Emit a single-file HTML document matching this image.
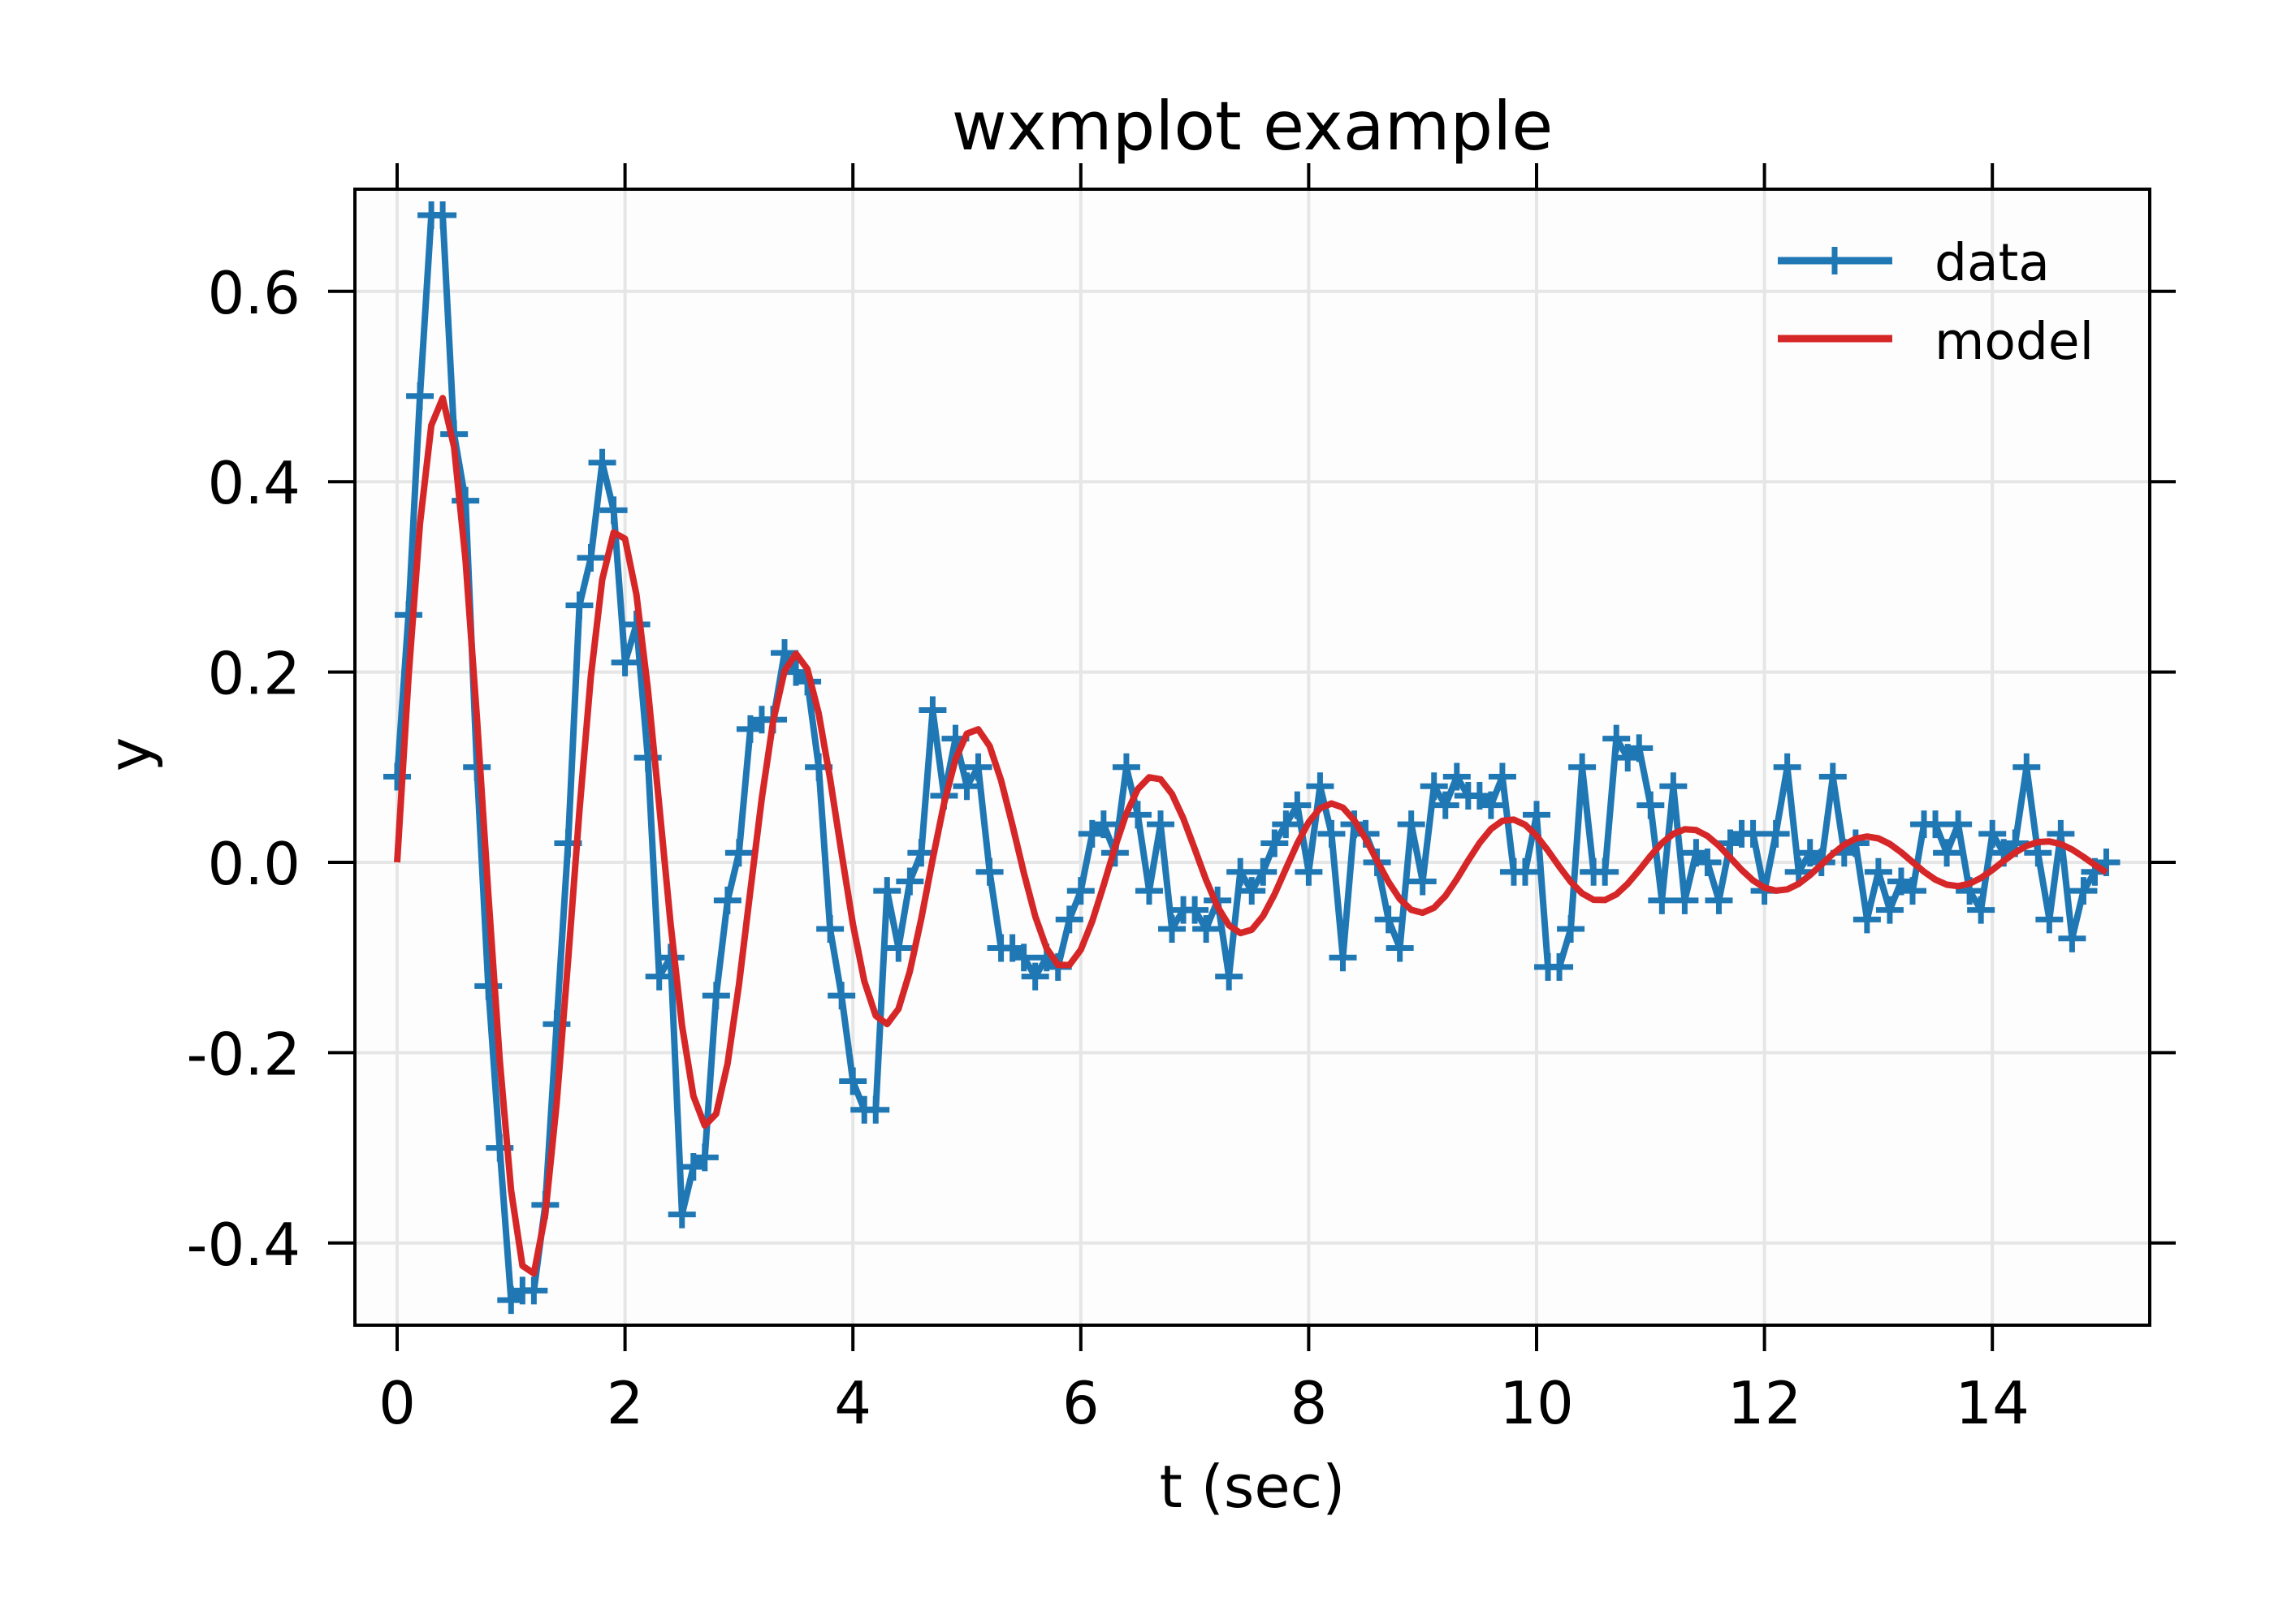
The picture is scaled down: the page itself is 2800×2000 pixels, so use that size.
<!DOCTYPE html>
<html><head><meta charset="utf-8"><style>
html,body{margin:0;padding:0;background:#fff;}
svg{display:block;font-family:"DejaVu Sans","Liberation Sans",sans-serif;}
</style></head><body>
<svg id="s" width="2800" height="2000" viewBox="0 0 2800 2000" xmlns="http://www.w3.org/2000/svg">
<rect width="2800" height="2000" fill="#fff"/>
<rect x="437" y="233" width="2210" height="1399" fill="#fdfdfd"/>
<g id="grid" stroke="#e6e6e6" stroke-width="4"></g>
<g id="series"></g>
<rect x="437" y="233" width="2210" height="1399" fill="none" stroke="#000" stroke-width="4"/>
<g id="ticks" stroke="#000" stroke-width="4"></g>
<g id="labels" font-size="72" fill="#000"></g>
<text x="1542" y="184" font-size="83" text-anchor="middle">wxmplot example</text>
<text x="1542" y="1856" font-size="72" text-anchor="middle">t (sec)</text>
<text x="0" y="0" font-size="72" text-anchor="middle" transform="translate(185,929) rotate(-90)">y</text>
<g>
<line x1="2189" y1="321" x2="2330" y2="321" stroke="#1f77b4" stroke-width="9"/>
<line x1="2242" y1="321" x2="2276" y2="321" stroke="#1f77b4" stroke-width="7"/>
<line x1="2259" y1="304" x2="2259" y2="338" stroke="#1f77b4" stroke-width="7"/>
<line x1="2189" y1="417" x2="2330" y2="417" stroke="#d62728" stroke-width="9"/>
<text x="2382" y="345" font-size="63">data</text>
<text x="2382" y="442" font-size="63">model</text>
</g>
</svg>
<script>
var NS="http://www.w3.org/2000/svg";
function X(t){return 489+140.3*t;}
function Y(v){return 1062-v*1172;}
function el(p,n,a,txt){var e=document.createElementNS(NS,n);for(var k in a)e.setAttribute(k,a[k]);if(txt!==undefined)e.textContent=txt;document.getElementById(p).appendChild(e);return e;}
for(var i=0;i<=14;i+=2){var x=X(i);el("grid","line",{x1:x,y1:233,x2:x,y2:1632});
el("ticks","line",{x1:x,y1:1632,x2:x,y2:1664});el("ticks","line",{x1:x,y1:233,x2:x,y2:201});
el("labels","text",{x:x,y:1753,"text-anchor":"middle"},String(i));}
[-0.4,-0.2,0,0.2,0.4,0.6].forEach(function(v){var y=Y(v);el("grid","line",{x1:437,y1:y,x2:2647,y2:y});
el("ticks","line",{x1:437,y1:y,x2:404,y2:y});el("ticks","line",{x1:2647,y1:y,x2:2679,y2:y});
el("labels","text",{x:370,y:y+27,"text-anchor":"end"},v.toFixed(1));});
var d=[0.09,0.26,0.49,0.68,0.68,0.45,0.38,0.10,-0.13,-0.30,-0.46,-0.45,-0.45,-0.36,-0.17,0.02,0.27,0.32,0.42,0.37,0.21,0.25,0.11,-0.12,-0.10,-0.37,-0.32,-0.31,-0.14,-0.04,0.01,0.14,0.15,0.15,0.22,0.20,0.19,0.10,-0.07,-0.14,-0.23,-0.26,-0.26,-0.03,-0.09,-0.02,0.01,0.16,0.07,0.13,0.08,0.10,-0.01,-0.09,-0.09,-0.10,-0.12,-0.10,-0.11,-0.06,-0.03,0.03,0.04,0.01,0.10,0.05,-0.03,0.04,-0.07,-0.05,-0.05,-0.07,-0.04,-0.12,-0.01,-0.03,-0.01,0.02,0.04,0.06,-0.01,0.08,0.03,-0.10,0.04,0.03,0.0,-0.06,-0.09,0.04,-0.02,0.08,0.06,0.09,0.07,0.07,0.06,0.09,-0.01,-0.01,0.05,-0.11,-0.11,-0.07,0.10,-0.01,-0.01,0.13,0.11,0.12,0.06,-0.04,0.08,-0.04,0.01,0.0,-0.04,0.02,0.03,0.03,-0.03,0.03,0.10,-0.01,0.01,0.0,0.09,0.01,0.02,-0.06,-0.01,-0.05,-0.02,-0.03,0.04,0.04,0.01,0.04,-0.03,-0.05,0.03,0.01,0.02,0.10,0.01,-0.06,0.03,-0.08,-0.03,-0.01,0.0];
var env=[[0,0.5],[0.37,0.49],[1.15,0.44],[1.95,0.35],[2.7,0.28],[3.5,0.22],[4.3,0.17],[5.1,0.14],[5.85,0.11],[6.65,0.09],[7.4,0.075],[8.2,0.062],[9.0,0.053],[9.8,0.045],[10.6,0.04],[11.35,0.035],[12.1,0.03],[12.95,0.027],[13.7,0.025],[14.5,0.022],[15,0.021]];
function A(t){for(var i=0;i<env.length-1;i++){if(t<=env[i+1][0]){var f=(t-env[i][0])/(env[i+1][0]-env[i][0]);return env[i][1]+f*(env[i+1][1]-env[i][1]);}}return 0.021;}
var w=2*Math.PI/1.565;
var pts=[];for(var i=0;i<=150;i++){var t=i*0.1;pts.push(X(t).toFixed(1)+","+Y(A(t)*Math.sin(w*t)).toFixed(1));}
var dp=[];for(var i=0;i<d.length;i++){dp.push(X(i*0.1).toFixed(1)+","+Y(d[i]).toFixed(1));}
el("series","polyline",{points:dp.join(" "),fill:"none",stroke:"#1f77b4","stroke-width":8,"stroke-linejoin":"round"});
var m="";for(var i=0;i<d.length;i++){var x=X(i*0.1),y=Y(d[i]);m+="M"+(x-17)+","+y+"h34M"+x+","+(y-17)+"v34";}
el("series","path",{d:m,stroke:"#1f77b4","stroke-width":7,fill:"none"});
el("series","polyline",{points:pts.join(" "),fill:"none",stroke:"#d62728","stroke-width":8,"stroke-linejoin":"round"});
</script>
</body></html>
